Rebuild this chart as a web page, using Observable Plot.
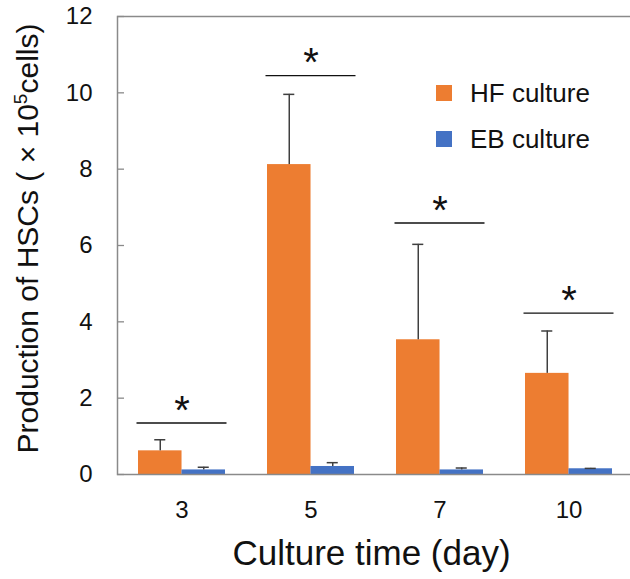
<!DOCTYPE html>
<html>
<head>
<meta charset="utf-8">
<script src="https://cdn.jsdelivr.net/npm/d3@7"></script>
<script src="https://cdn.jsdelivr.net/npm/@observablehq/plot@0.6"></script>
<style>
  html, body { margin: 0; padding: 0; background: #fff; overflow: hidden; }
  #wrap { position: relative; width: 630px; height: 579px; font-family: "Liberation Sans", Arial, sans-serif; }
  #wrap svg { display: block; }
  .legend { position: absolute; left: 436px; top: 78px; color: #111; font-size: 26px; }
  .legend .row { display: flex; align-items: center; height: 30px; margin-bottom: 16px; }
  .legend .sw { width: 16px; height: 16px; margin-right: 18px; }
</style>
</head>
<body>
<div id="wrap"></div>
<script>
// Culture days (categories)
const days = ["3", "5", "7", "10"];
// HF culture: mean and SD (x 10^5 cells)
const hfMean = [0.62, 8.12, 3.53, 2.65];
const hfSD = [0.29, 1.84, 2.50, 1.11];
// EB culture: mean and SD (x 10^5 cells)
const ebMean = [0.12, 0.21, 0.12, 0.15];
const ebSD = [0.07, 0.10, 0.05, 0.01];
// Significance bracket heights and markers
const sigLevel = [1.35, 10.45, 6.59, 4.23];
const sigMark = ["*", "*", "*", "*"];
// Y axis ticks
const yTicks = [0, 2, 4, 6, 8, 10, 12];

const series = [
  {name: "HF culture", color: "#ED7D31", mean: hfMean, sd: hfSD},
  {name: "EB culture", color: "#4472C4", mean: ebMean, sd: ebSD}
];

const hf = days.map((d, i) => ({day: d, mean: hfMean[i], sd: hfSD[i]}));
const eb = days.map((d, i) => ({day: d, mean: ebMean[i], sd: ebSD[i]}));
const sig = days.map((d, i) => ({day: d, level: sigLevel[i], mark: sigMark[i]}));

const W = 630, H = 579;
const mL = 117, mR = -3, mT = 16, mB = 105;
const padInner = 0.326, padOuter = 0.163;
const span = W - mR - mL;
const step = span / (days.length - padInner + 2 * padOuter);
const BW = step * (1 - padInner);     // width of one day group
const half = BW / 2, cap = 5.5;
const errColor = "#3f3f3f";

const font = "Liberation Sans, Arial, sans-serif";

const plot = Plot.plot({
  width: W,
  height: H,
  marginLeft: mL,
  marginRight: mR,
  marginTop: mT,
  marginBottom: mB,
  style: {fontFamily: font, color: "#111", background: "transparent"},
  x: {type: "band", domain: days, paddingInner: padInner, paddingOuter: padOuter, align: 0.5, axis: null},
  y: {domain: [0, 12], axis: null},
  marks: [
    // bars
    Plot.barY(hf, {x: "day", y: "mean", fill: series[0].color, insetRight: half, insetLeft: 0}),
    Plot.barY(eb, {x: "day", y: "mean", fill: series[1].color, insetLeft: half, insetRight: 0}),
    // error bars (upper only)
    Plot.ruleX(hf, {x: "day", y1: "mean", y2: d => d.mean + d.sd, dx: -half / 2, stroke: errColor, strokeWidth: 1.5}),
    Plot.ruleX(eb, {x: "day", y1: "mean", y2: d => d.mean + d.sd, dx: half / 2, stroke: errColor, strokeWidth: 1.5}),
    Plot.tickY(hf, {x: "day", y: d => d.mean + d.sd, insetLeft: half / 2 - cap, insetRight: BW - half / 2 - cap, stroke: errColor, strokeWidth: 1.5}),
    Plot.tickY(eb, {x: "day", y: d => d.mean + d.sd, insetLeft: half + half / 2 - cap, insetRight: half / 2 - cap, stroke: errColor, strokeWidth: 1.5}),
    // significance brackets
    Plot.tickY(sig, {x: "day", y: "level", stroke: "#111", strokeWidth: 1.3, insetLeft: -1.5, insetRight: -1.5}),
    Plot.text(sig, {x: "day", y: "level", text: "mark", fontSize: 40, dy: -12, fill: "#111"}),
    // frame and axes
    Plot.frame({stroke: "#8a8a8a", strokeWidth: 1.5}),
    Plot.ruleY(yTicks, {y: d => d, insetRight: span - 7, stroke: "#8a8a8a", strokeWidth: 1.3}),
    Plot.axisY(yTicks, {tickSize: 0, tickPadding: 25, fontSize: 24, tickFormat: d => String(d)}),
    Plot.axisX(days, {tickSize: 0, tickPadding: 26, fontSize: 24, label: null}),
    // axis titles
    Plot.text(["Culture time (day)"], {frameAnchor: "bottom", lineAnchor: "middle", textAnchor: "middle", dy: 79, dx: -4, fontSize: 35, fill: "#111"}),
    Plot.text(["Production of HSCs ( × 10|5|cells)"], {frameAnchor: "left", textAnchor: "middle", lineAnchor: "middle", rotate: -90, dx: -89, dy: -7, fontSize: 30, fill: "#111"})
  ]
});

// Render the exponent in the y-axis title as a superscript
plot.querySelectorAll("text").forEach(t => {
  const s = t.textContent;
  if (s.includes("|5|")) {
    const [pre, exp, post] = s.split("|");
    t.textContent = "";
    const a = document.createElementNS("http://www.w3.org/2000/svg", "tspan");
    a.textContent = pre;
    const b = document.createElementNS("http://www.w3.org/2000/svg", "tspan");
    b.textContent = exp;
    b.setAttribute("font-size", "19");
    b.setAttribute("dy", "-11");
    const c = document.createElementNS("http://www.w3.org/2000/svg", "tspan");
    c.textContent = post;
    c.setAttribute("dy", "11");
    t.append(a, b, c);
  }
});

const wrap = document.getElementById("wrap");
wrap.appendChild(plot);

// legend
const legend = document.createElement("div");
legend.className = "legend";
series.forEach(s => {
  const row = document.createElement("div");
  row.className = "row";
  const sw = document.createElement("span");
  sw.className = "sw";
  sw.style.background = s.color;
  const lab = document.createElement("span");
  lab.textContent = s.name;
  row.append(sw, lab);
  legend.appendChild(row);
});
wrap.appendChild(legend);
</script>
</body>
</html>
